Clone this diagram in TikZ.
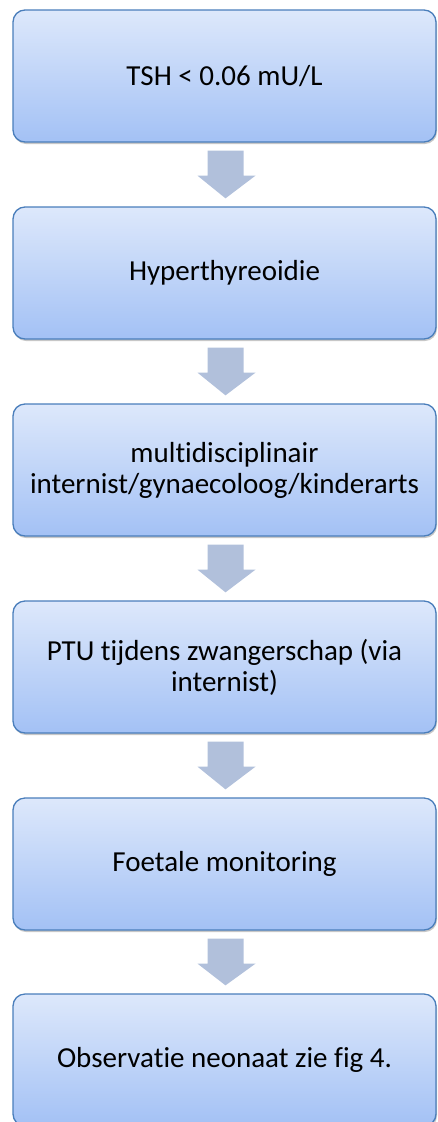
\documentclass[tikz,border=0pt]{standalone}
\usepackage{fontspec}
\setmainfont[Ligatures=NoCommon]{Carlito}
\usetikzlibrary{shadows,calc}
\definecolor{boxtop}{HTML}{DDE8FB}
\definecolor{boxbot}{HTML}{A3C1F5}
\definecolor{boxline}{HTML}{4A7EBB}
\definecolor{arrcol}{HTML}{B1C0DB}
\tikzset{
  flowbox/.style={rectangle, rounded corners=12pt, draw=boxline, line width=1.3pt,
    top color=boxtop, bottom color=boxbot,
    minimum width=423pt, minimum height=132pt, inner sep=0pt,
    align=center, font=\fontsize{29}{31}\selectfont,
    drop shadow={shadow xshift=1pt, shadow yshift=-2pt, opacity=0.22, fill=black}},
  flowarrow/.style={fill=arrcol, draw=none}
}
\newcommand{\downarrowshape}[2]{%
  \fill[flowarrow] ($(#1.south)+(-17pt,-8pt)$) -- ($(#1.south)+(19pt,-8pt)$)
    -- ($(#1.south)+(19pt,-33pt)$) -- ($(#1.south)+(31pt,-33pt)$)
    -- ($(#2.north)+(1pt,8pt)$)
    -- ($(#1.south)+(-27pt,-33pt)$) -- ($(#1.south)+(-17pt,-33pt)$) -- cycle;}
\begin{document}
\begin{tikzpicture}[x=1pt,y=1pt]
\useasboundingbox (0,0) rectangle (437,-1122);
\node[flowbox] (b1) at (224.5,-76) {TSH < 0.06 mU/L};
\node[flowbox] (b2) at (224.5,-273) {Hyperthyreoidie};
\node[flowbox] (b3) at (224.5,-470) {multidisciplinair\\internist/gynaecoloog/kinderarts};
\node[flowbox] (b4) at (224.5,-667) {PTU tijdens zwangerschap (via\\internist)};
\node[flowbox] (b5) at (224.5,-864) {Foetale monitoring};
\node[flowbox] (b6) at (224.5,-1060) {Observatie neonaat zie fig 4.};
\downarrowshape{b1}{b2}
\downarrowshape{b2}{b3}
\downarrowshape{b3}{b4}
\downarrowshape{b4}{b5}
\downarrowshape{b5}{b6}
\end{tikzpicture}
\end{document}
